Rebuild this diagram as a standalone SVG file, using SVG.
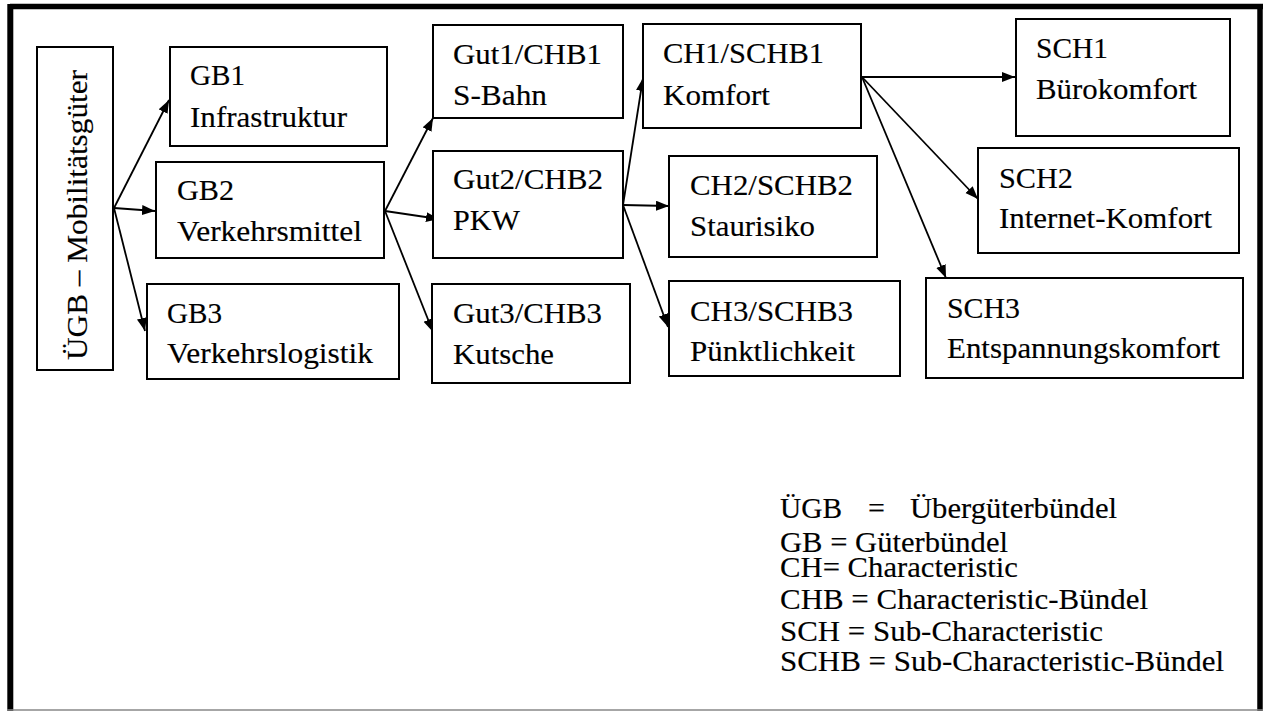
<svg xmlns="http://www.w3.org/2000/svg" width="1263" height="711" viewBox="0 0 1263 711">
<style>
.box{fill:#fff;stroke:#000;stroke-width:2}
text{font-family:'Liberation Serif','Times New Roman',Times,serif;font-size:30px;fill:#000;stroke:#000;stroke-width:0.15}
.c{stroke:#000;stroke-width:1.8;fill:none;marker-end:url(#ah)}
</style>
<defs>
<marker id="ah" markerUnits="userSpaceOnUse" markerWidth="14" markerHeight="11" refX="13" refY="5" orient="auto">
<path d="M0,0 L13,5 L0,10 z" fill="#000"/>
</marker>
</defs>
<rect width="1263" height="711" fill="#fff"/>
<g id="frame">
<line x1="10" y1="6.5" x2="1263" y2="6.5" stroke="#000" stroke-width="5.5"/>
<line x1="10.3" y1="4" x2="10.3" y2="711" stroke="#000" stroke-width="6"/>
<line x1="1260" y1="4" x2="1260" y2="711" stroke="#000" stroke-width="5.5"/>
<line x1="7" y1="710" x2="1263" y2="710" stroke="#888" stroke-width="1.5"/>
</g>
<g id="connectors">
<line class="c" x1="114" y1="208" x2="169" y2="100"/>
<line class="c" x1="114" y1="208" x2="155" y2="211"/>
<line class="c" x1="114" y1="208" x2="145" y2="331"/>
<line class="c" x1="385" y1="211" x2="433" y2="118"/>
<line class="c" x1="385" y1="211" x2="439" y2="219"/>
<line class="c" x1="385" y1="211" x2="433" y2="332"/>
<line class="c" x1="623" y1="205" x2="643" y2="78"/>
<line class="c" x1="623" y1="205" x2="669" y2="206"/>
<line class="c" x1="623" y1="205" x2="668" y2="327"/>
<line class="c" x1="862" y1="77" x2="1015" y2="77"/>
<line class="c" x1="862" y1="77" x2="978" y2="199"/>
<line class="c" x1="862" y1="77" x2="946" y2="278"/>
</g>
<g id="uegb">
<rect class="box" x="37" y="47" width="76" height="323"/>
<text transform="translate(87,360) rotate(-90)" textLength="290" lengthAdjust="spacingAndGlyphs">ÜGB – Mobilitätsgüter</text>
</g>
<g id="gb1">
<rect class="box" x="170" y="47" width="217" height="99"/>
<text x="190" y="85" textLength="55" lengthAdjust="spacingAndGlyphs">GB1</text>
<text x="190" y="127" textLength="157" lengthAdjust="spacingAndGlyphs">Infrastruktur</text>
</g>
<g id="gb2">
<rect class="box" x="156" y="162" width="228" height="96"/>
<text x="177" y="200" textLength="57" lengthAdjust="spacingAndGlyphs">GB2</text>
<text x="177" y="241" textLength="185" lengthAdjust="spacingAndGlyphs">Verkehrsmittel</text>
</g>
<g id="gb3">
<rect class="box" x="147" y="284" width="252" height="95"/>
<text x="167" y="323" textLength="55" lengthAdjust="spacingAndGlyphs">GB3</text>
<text x="167" y="363" textLength="206" lengthAdjust="spacingAndGlyphs">Verkehrslogistik</text>
</g>
<g id="gut1">
<rect class="box" x="433" y="25" width="190" height="93"/>
<text x="453" y="64" textLength="149" lengthAdjust="spacingAndGlyphs">Gut1/CHB1</text>
<text x="453" y="105" textLength="94" lengthAdjust="spacingAndGlyphs">S-Bahn</text>
</g>
<g id="gut2">
<rect class="box" x="433" y="151" width="190" height="107"/>
<text x="453" y="189" textLength="150" lengthAdjust="spacingAndGlyphs">Gut2/CHB2</text>
<text x="453" y="230" textLength="67" lengthAdjust="spacingAndGlyphs">PKW</text>
</g>
<g id="gut3">
<rect class="box" x="432" y="284" width="198" height="99"/>
<text x="453" y="323" textLength="149" lengthAdjust="spacingAndGlyphs">Gut3/CHB3</text>
<text x="453" y="364" textLength="101" lengthAdjust="spacingAndGlyphs">Kutsche</text>
</g>
<g id="ch1">
<rect class="box" x="643" y="24" width="218" height="104"/>
<text x="663" y="63" textLength="161" lengthAdjust="spacingAndGlyphs">CH1/SCHB1</text>
<text x="663" y="105" textLength="107" lengthAdjust="spacingAndGlyphs">Komfort</text>
</g>
<g id="ch2">
<rect class="box" x="669" y="156" width="208" height="101"/>
<text x="690" y="195" textLength="163" lengthAdjust="spacingAndGlyphs">CH2/SCHB2</text>
<text x="690" y="236" textLength="125" lengthAdjust="spacingAndGlyphs">Staurisiko</text>
</g>
<g id="ch3">
<rect class="box" x="669" y="281" width="231" height="95"/>
<text x="690" y="321" textLength="163" lengthAdjust="spacingAndGlyphs">CH3/SCHB3</text>
<text x="690" y="361" textLength="165" lengthAdjust="spacingAndGlyphs">Pünktlichkeit</text>
</g>
<g id="sch1">
<rect class="box" x="1016" y="19" width="214" height="117"/>
<text x="1036" y="58" textLength="72" lengthAdjust="spacingAndGlyphs">SCH1</text>
<text x="1036" y="99" textLength="161" lengthAdjust="spacingAndGlyphs">Bürokomfort</text>
</g>
<g id="sch2">
<rect class="box" x="978" y="148" width="261" height="105"/>
<text x="999" y="188" textLength="74" lengthAdjust="spacingAndGlyphs">SCH2</text>
<text x="999" y="228" textLength="213" lengthAdjust="spacingAndGlyphs">Internet-Komfort</text>
</g>
<g id="sch3">
<rect class="box" x="926" y="278" width="317" height="100"/>
<text x="947" y="318" textLength="73" lengthAdjust="spacingAndGlyphs">SCH3</text>
<text x="947" y="358" textLength="273" lengthAdjust="spacingAndGlyphs">Entspannungskomfort</text>
</g>
<g id="legend">
<text x="780" y="518" textLength="62" lengthAdjust="spacingAndGlyphs">ÜGB</text>
<text x="868" y="518">=</text>
<text x="910" y="518" textLength="207" lengthAdjust="spacingAndGlyphs">Übergüterbündel</text>
<text x="780" y="552" textLength="228" lengthAdjust="spacingAndGlyphs">GB = Güterbündel</text>
<text x="780" y="577" textLength="238" lengthAdjust="spacingAndGlyphs">CH= Characteristic</text>
<text x="780" y="609" textLength="368" lengthAdjust="spacingAndGlyphs">CHB = Characteristic-Bündel</text>
<text x="780" y="641" textLength="323" lengthAdjust="spacingAndGlyphs">SCH = Sub-Characteristic</text>
<text x="780" y="671" textLength="444" lengthAdjust="spacingAndGlyphs">SCHB = Sub-Characteristic-Bündel</text>
</g>
</svg>
